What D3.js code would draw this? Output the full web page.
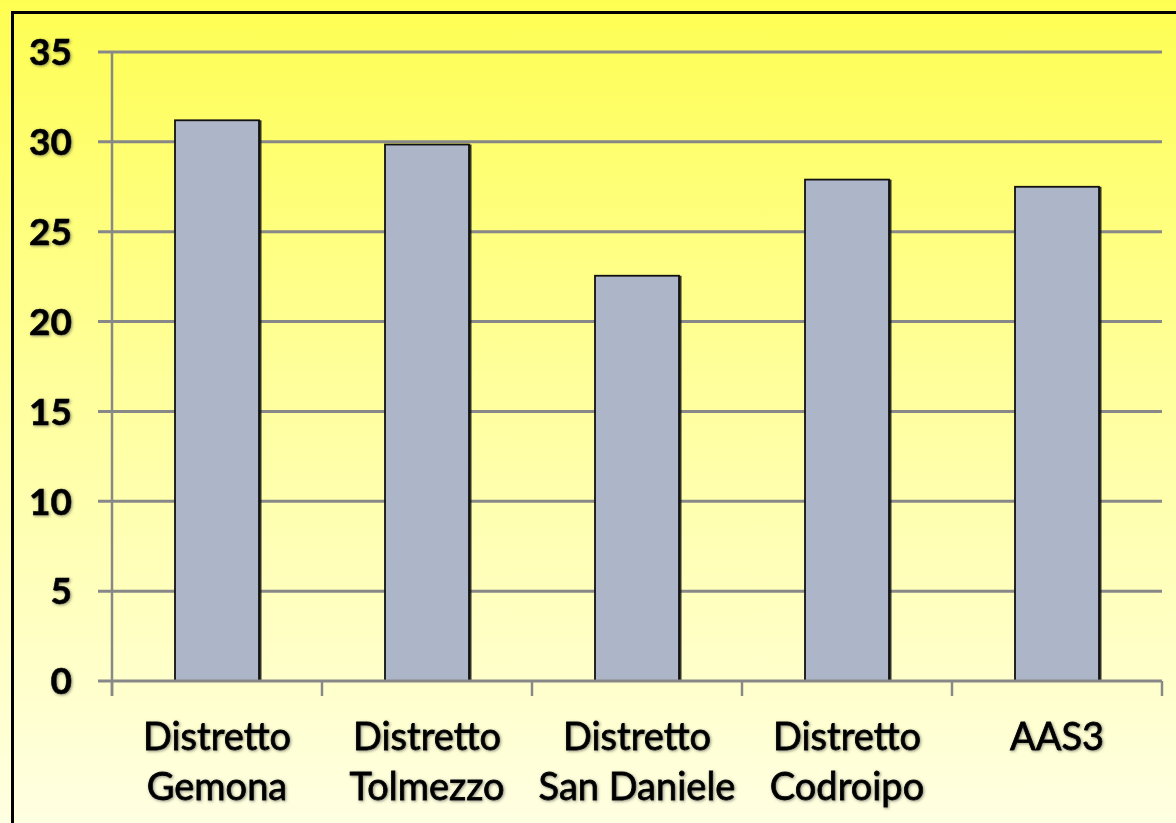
<!DOCTYPE html>
<html>
<head>
<meta charset="utf-8">
<script src="https://cdn.jsdelivr.net/npm/d3@7"></script>
<style>
  html, body { margin: 0; padding: 0; overflow: hidden; }
  svg { display: block; }
</style>
</head>
<body>
<div id="chart"></div>
<script>
const categories = ['Distretto Gemona', 'Distretto Tolmezzo', 'Distretto San Daniele', 'Distretto Codroipo', 'AAS3'];
const labelLines = [['Distretto', 'Gemona'], ['Distretto', 'Tolmezzo'], ['Distretto', 'San Daniele'], ['Distretto', 'Codroipo'], ['AAS3']];
const values = [31.2, 29.85, 22.55, 27.9, 27.5];
const yTicks = [0, 5, 10, 15, 20, 25, 30, 35];

const width = 1176, height = 823;
const plot = { left: 112, right: 1162, top: 52, bottom: 681 };

const svg = d3.select('#chart').append('svg')
    .attr('width', width).attr('height', height);

const defs = svg.append('defs');
const grad = defs.append('linearGradient').attr('id', 'bg')
    .attr('x1', 0).attr('y1', 0).attr('x2', 0).attr('y2', 1);
grad.append('stop').attr('offset', '0%').attr('stop-color', '#fefe52');
grad.append('stop').attr('offset', '45%').attr('stop-color', '#ffff9a');
grad.append('stop').attr('offset', '100%').attr('stop-color', '#ffffe2');

// soft grey halo behind the labels, like the original slide text
const glow = defs.append('filter').attr('id', 'glow')
    .attr('x', '-10%').attr('y', '-20%').attr('width', '120%').attr('height', '140%');
glow.append('feDropShadow').attr('dx', 1).attr('dy', 1)
    .attr('stdDeviation', 1.4).attr('flood-color', '#444').attr('flood-opacity', 0.6);

svg.append('rect').attr('width', width).attr('height', height).attr('fill', 'url(#bg)');
// frame, cut off at right and bottom
svg.append('rect').attr('x', 12.5).attr('y', 12.5).attr('width', width + 20).attr('height', height + 20)
    .attr('fill', 'none').attr('stroke', '#000').attr('stroke-width', 3);

const x = d3.scaleBand().domain(categories).range([plot.left, plot.right])
    .paddingInner(0.6).paddingOuter(0.3);
const y = d3.scaleLinear().domain([0, 35]).range([plot.bottom, plot.top]);

// Gridlines (extend left past the axis as tick marks)
svg.append('g').selectAll('line').data(yTicks.filter((t) => t > 0)).enter().append('line')
    .attr('x1', plot.left - 14).attr('x2', plot.right)
    .attr('y1', (d) => y(d)).attr('y2', (d) => y(d))
    .attr('stroke', '#888888').attr('stroke-width', 3);

// Y axis
svg.append('line').attr('x1', plot.left).attr('x2', plot.left)
    .attr('y1', plot.top).attr('y2', plot.bottom + 15)
    .attr('stroke', '#888888').attr('stroke-width', 2.5);

svg.append('g').attr('filter', 'url(#glow)').selectAll('text').data(yTicks).enter().append('text')
    .attr('x', 72).attr('y', (d) => y(d)).attr('dy', '0.36em')
    .attr('text-anchor', 'end')
    .style('font-family', 'Lato, "Open Sans", sans-serif')
    .style('font-weight', 700).style('font-size', '37px').attr('fill', '#000')
    .attr('stroke', '#000').attr('stroke-width', 0.6)
    .text((d) => d);

// Bars: shadow on the right, then the bar itself
const barG = svg.append('g');
barG.selectAll('rect.shadow').data(values).enter().append('rect')
    .attr('class', 'shadow')
    .attr('x', (d, i) => x(categories[i]) + 2.5).attr('y', (d) => y(d))
    .attr('width', x.bandwidth()).attr('height', (d) => y(0) - y(d))
    .attr('fill', '#111').attr('opacity', 0.85);
barG.selectAll('rect.bar').data(values).enter().append('rect')
    .attr('class', 'bar')
    .attr('x', (d, i) => x(categories[i])).attr('y', (d) => y(d))
    .attr('width', x.bandwidth()).attr('height', (d) => y(0) - y(d))
    .attr('fill', '#adb6c9').attr('stroke', '#111').attr('stroke-width', 1.8);

// X axis with ticks between categories
svg.append('line').attr('x1', plot.left - 14).attr('x2', plot.right)
    .attr('y1', plot.bottom).attr('y2', plot.bottom)
    .attr('stroke', '#888888').attr('stroke-width', 3);
const bounds = categories.map((c, i) => plot.left + i * x.step());
bounds.push(plot.right);
svg.append('g').selectAll('line').data(bounds).enter().append('line')
    .attr('x1', (d) => d).attr('x2', (d) => d)
    .attr('y1', plot.bottom).attr('y2', plot.bottom + 15)
    .attr('stroke', '#888888').attr('stroke-width', 2.5);

const xl = svg.append('g').attr('filter', 'url(#glow)');
categories.forEach((c, i) => {
    const t = xl.append('text')
        .attr('x', x(c) + x.bandwidth() / 2).attr('y', 750)
        .attr('text-anchor', 'middle')
        .style('font-family', 'Lato, "Open Sans", sans-serif')
        .style('font-weight', 400).style('font-size', '38px').attr('fill', '#000')
        .attr('stroke', '#000').attr('stroke-width', 0.8);
    labelLines[i].forEach((line, j) => {
        t.append('tspan').attr('x', x(c) + x.bandwidth() / 2).attr('dy', j === 0 ? 0 : 50).text(line);
    });
});
</script>
</body>
</html>
